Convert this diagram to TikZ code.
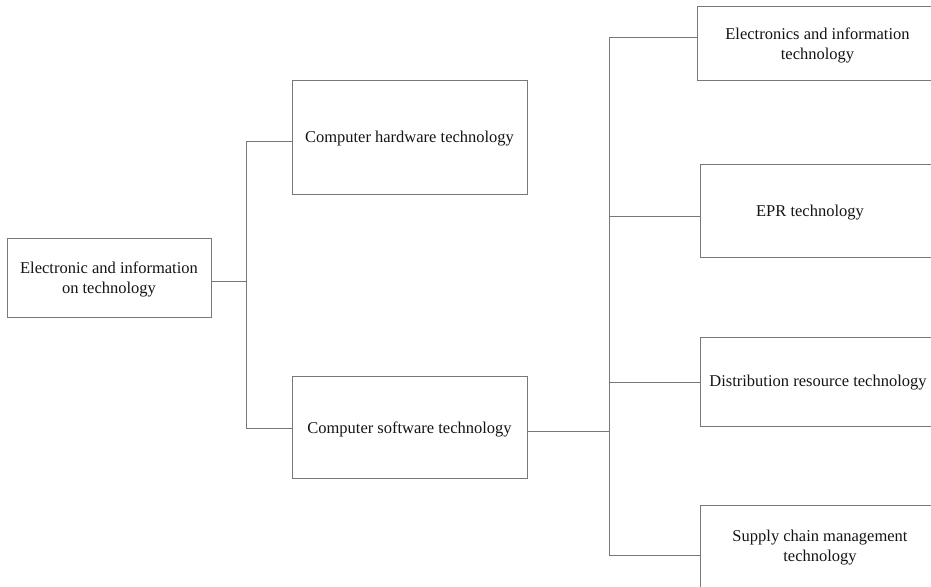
\documentclass[tikz,border=0pt]{standalone}
\usepackage{fontspec}
\setmainfont{Liberation Serif}
\definecolor{linec}{RGB}{120,120,120}
\definecolor{txtc}{RGB}{20,20,20}
\begin{document}
\begin{tikzpicture}[x=1pt,y=-1pt,
  box/.style={draw=linec, line width=1pt, inner sep=0pt, anchor=north west},
  lbl/.style={inner sep=0pt, align=center, text=txtc, font=\fontsize{16.5}{20}\selectfont},
  conn/.style={draw=linec, line width=1pt}]
\useasboundingbox (0,0) rectangle (931,586);
\clip (0,0) rectangle (931,586);
% boxes
\node[box, minimum width=204pt, minimum height=79pt] (root) at (7,238) {};
\node[box, minimum width=235pt, minimum height=114pt] (hw) at (292,80) {};
\node[box, minimum width=235pt, minimum height=102pt] (sw) at (292,376) {};
\node[box, minimum width=260pt, minimum height=74pt] (b1) at (697,6) {};
\node[box, minimum width=260pt, minimum height=93pt] (b2) at (700,164) {};
\node[box, minimum width=260pt, minimum height=89pt] (b3) at (700,337) {};
\node[box, minimum width=260pt, minimum height=110pt] (b4) at (700,505) {};
% texts
\node[lbl] (t0) at (109,279.5) {Electronic and information\\on technology};
\node[lbl] (th) at (409.5,139) {Computer hardware technology};
\node[lbl] (ts) at (409.5,429) {Computer software technology};
\node[lbl] (t1) at (817.5,45) {Electronics and information\\technology};
\node[lbl] (t2) at (810,213) {EPR technology};
\node[lbl] (t3) at (818,383) {Distribution resource technology};
\node[lbl] (t4) at (820,548) {Supply chain management\\technology};
% junction coordinates
\coordinate (j0) at (246,281);
\coordinate (jh) at (246,141);
\coordinate (js) at (246,428);
\coordinate (k0) at (609,431);
\coordinate (k1) at (609,38);
\coordinate (k2) at (609,216);
\coordinate (k3) at (609,382);
\coordinate (k4) at (609,555);
% connectors
\draw[conn] (root.east |- j0) -- (j0);
\draw[conn] (jh) -- (js);
\draw[conn] (jh) -- (hw.west |- jh);
\draw[conn] (js) -- (sw.west |- js);
\draw[conn] (sw.east |- k0) -- (k0);
\draw[conn] (k1) -- (k4);
\draw[conn] (k1) -- (b1.west |- k1);
\draw[conn] (k2) -- (b2.west |- k2);
\draw[conn] (k3) -- (b3.west |- k3);
\draw[conn] (k4) -- (b4.west |- k4);
\end{tikzpicture}
\end{document}
